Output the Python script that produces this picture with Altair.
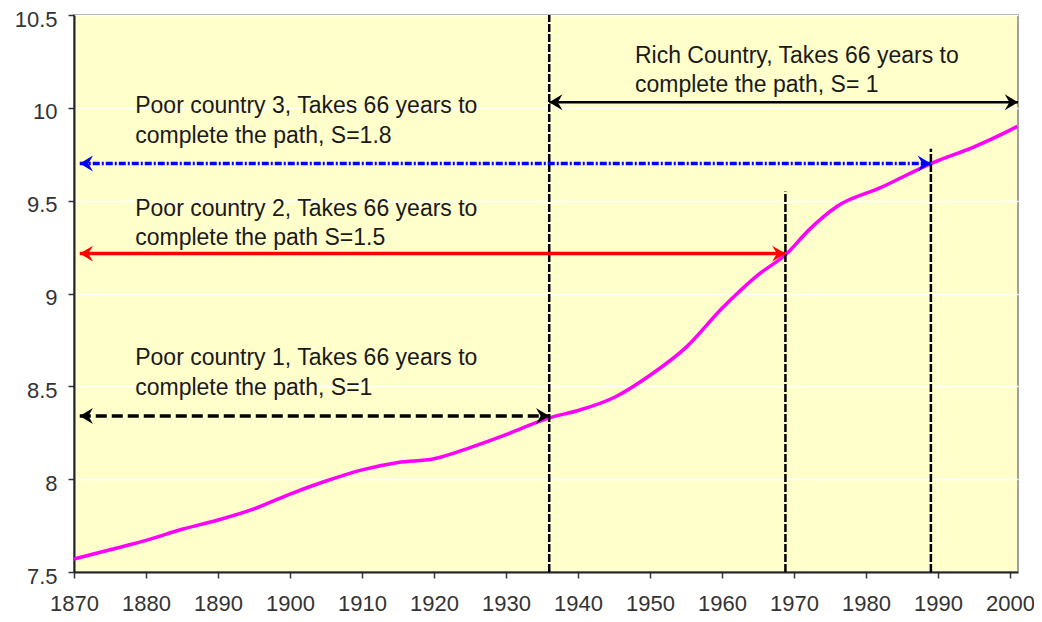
import altair as alt
import pandas as pd

# ---- data ----
years = [1870, 1875, 1880, 1885, 1890, 1895, 1900, 1905, 1910, 1915, 1920, 1925, 1930,
         1936, 1940, 1945, 1950, 1955, 1960, 1965, 1969, 1972, 1976, 1982, 1989, 1995,
         2000, 2001]
values = [7.57, 7.62, 7.67, 7.73, 7.78, 7.84, 7.92, 7.99, 8.05, 8.09, 8.11, 8.17, 8.24,
          8.33, 8.37, 8.44, 8.56, 8.71, 8.92, 9.10, 9.215, 9.34, 9.47, 9.57, 9.70, 9.79,
          9.88, 9.90]

x_ticks = [1870, 1880, 1890, 1900, 1910, 1920, 1930, 1940, 1950, 1960, 1970, 1980, 1990, 2000]
y_ticks = [7.5, 8, 8.5, 9, 9.5, 10, 10.5]

vline_x = [1936, 1968.8, 1989]
vline_top = [10.5, 9.55, 9.78]

arrow_names = ["Poor 1", "Poor 2", "Poor 3", "Rich"]
arrow_y = [8.34, 9.215, 9.70, 10.03]
arrow_x1 = [1870.8, 1870.8, 1870.8, 1936]
arrow_x2 = [1936, 1968.8, 1989, 2001.1]
arrow_colors = ["#000000", "#FF0000", "#0000FF", "#000000"]
arrow_dash = [[11, 5], [1, 0], [7, 2, 2, 2], [1, 0]]
arrow_width = [3.5, 3.5, 3.5, 2.5]

label_text = ["Poor country 3, Takes 66 years to", "complete the path, S=1.8",
              "Poor country 2, Takes 66 years to", "complete the path S=1.5",
              "Poor country 1, Takes 66 years to", "complete the path, S=1",
              "Rich Country, Takes 66 years to", "complete the path, S= 1"]
label_x = [1878.5, 1878.5, 1878.5, 1878.5, 1878.5, 1878.5, 1947.9, 1947.9]
label_y = [10.01, 9.85, 9.455, 9.30, 8.65, 8.49, 10.28, 10.125]

X_DOMAIN = [1870, 2001.1]
Y_DOMAIN = [7.5, 10.5]
FONT = "Liberation Sans"

xs = alt.Scale(domain=X_DOMAIN, nice=False, zero=False)
ys = alt.Scale(domain=Y_DOMAIN, nice=False, zero=False)

curve_df = pd.DataFrame({"year": years, "value": values})

base = alt.Chart(curve_df).mark_line(
    color="#FF00FF", strokeWidth=3.5, interpolate="monotone"
).encode(
    x=alt.X("year:Q", scale=xs,
            axis=alt.Axis(values=x_ticks, format="d", title=None, grid=False,
                          labelFontSize=22, labelColor="#333333", labelFont=FONT,
                          labelOverlap=False, labelFlush=False,
                          tickSize=6, tickColor="#333333", tickWidth=1.5,
                          domainColor="#222222", domainWidth=2, labelPadding=15)),
    y=alt.Y("value:Q", scale=ys,
            axis=alt.Axis(values=y_ticks, format="~g", title=None, grid=True,
                          gridColor="#FFFFFF", gridWidth=1.5,
                          labelFontSize=22, labelColor="#333333", labelFont=FONT,
                          labelOverlap=False, labelFlush=False, labelOffset=4,
                          tickSize=6, tickColor="#333333", tickWidth=1.5,
                          domainColor="#222222", domainWidth=2, labelPadding=11)),
)

vl_df = pd.DataFrame({"x": vline_x, "y1": [7.5] * 3, "y2": vline_top})
vlines = alt.Chart(vl_df).mark_rule(color="#000000", strokeWidth=2.5, strokeDash=[8, 2]).encode(
    x=alt.X("x:Q", scale=xs), y=alt.Y("y1:Q", scale=ys), y2="y2:Q"
)

layers = [vlines]
arrow_df = pd.DataFrame({"name": arrow_names, "y": arrow_y, "x1": arrow_x1, "x2": arrow_x2,
                         "color": arrow_colors})
for i, nm in enumerate(arrow_names):
    d = arrow_df[arrow_df["name"] == nm]
    layers.append(
        alt.Chart(d).mark_rule(color=arrow_colors[i], strokeWidth=arrow_width[i],
                               strokeDash=arrow_dash[i]).encode(
            x=alt.X("x1:Q", scale=xs), x2="x2:Q", y=alt.Y("y:Q", scale=ys)
        )
    )

right_head = "M0,0L-1,-0.6L-0.65,0L-1,0.6Z"
left_head = "M0,0L1,-0.6L0.65,0L1,0.6Z"
layers.append(
    alt.Chart(arrow_df).mark_point(shape=right_head, filled=True, size=700, opacity=1).encode(
        x=alt.X("x2:Q", scale=xs), y=alt.Y("y:Q", scale=ys),
        color=alt.Color("color:N", scale=None)
    )
)
layers.append(
    alt.Chart(arrow_df).mark_point(shape=left_head, filled=True, size=700, opacity=1).encode(
        x=alt.X("x1:Q", scale=xs), y=alt.Y("y:Q", scale=ys),
        color=alt.Color("color:N", scale=None)
    )
)

lab_df = pd.DataFrame({"t": label_text, "x": label_x, "y": label_y})
labels = alt.Chart(lab_df).mark_text(
    align="left", baseline="middle", fontSize=23, font=FONT, color="#1a1a1a"
).encode(x=alt.X("x:Q", scale=xs), y=alt.Y("y:Q", scale=ys), text="t:N")

chart = alt.layer(base, *layers, labels).properties(
    width=944, height=557,
    autosize=alt.AutoSizeParams(type="none"),
    padding={"left": 66, "top": 7, "right": 16, "bottom": 42},
    background="#FFFFFF",
).configure_view(
    fill="#FFFFCC", stroke="#A0A0A0", strokeWidth=2
)

chart.save("out.html", embed_options={"renderer": "svg", "actions": False})
